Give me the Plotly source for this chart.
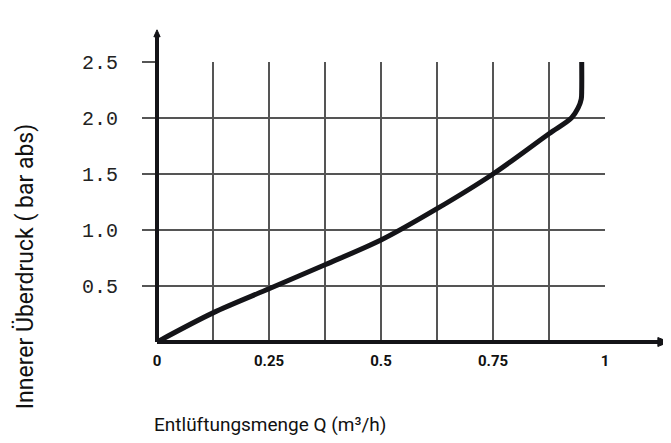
import plotly.graph_objects as go

# Data
q_flow = [0, 0.125, 0.25, 0.375, 0.5, 0.625, 0.75, 0.875, 0.925, 0.940, 0.947, 0.948, 0.948]
p_press = [0, 0.26, 0.475, 0.69, 0.91, 1.19, 1.50, 1.86, 2.0, 2.09, 2.17, 2.25, 2.52]

x_tickvals = [0, 0.125, 0.25, 0.375, 0.5, 0.625, 0.75, 0.875, 1.0]
x_ticktext = ["0", "", "0.25", "", "0.5", "", "0.75", "", "1"]
y_tickvals = [0.5, 1.0, 1.5, 2.0, 2.5]
y_ticktext = ["0.5", "1.0", "1.5", "2.0", "2.5"]

x_title = "Entlüftungsmenge Q (m³/h)"
y_title = "Innerer Überdruck ( bar abs)"

narrow = "Roboto, Liberation Sans Narrow, sans-serif"
grid_col = "#555555"
ink = "#141418"

fig = go.Figure()
fig.add_trace(go.Scatter(
    x=q_flow, y=p_press, mode="lines",
    line=dict(color=ink, width=5, shape="spline", smoothing=0.9),
    hoverinfo="skip", showlegend=False,
))

fig.update_layout(
    width=663, height=435,
    margin=dict(l=149, r=66, t=54, b=101),
    paper_bgcolor="white", plot_bgcolor="white",
    xaxis=dict(
        range=[0, 1], tickvals=x_tickvals, ticktext=x_ticktext,
        showgrid=True, gridcolor=grid_col, gridwidth=1.6,
        zeroline=False, showline=False, ticks="",
        tickfont=dict(family=narrow, size=15, color="#111111", weight="bold"),
        ticklabelstandoff=8,
    ),
    yaxis=dict(
        range=[0, 2.5], tickvals=y_tickvals, ticktext=y_ticktext,
        showgrid=True, gridcolor=grid_col, gridwidth=1.6,
        zeroline=False, showline=False,
        ticks="outside", ticklen=14, tickwidth=1.6, tickcolor=grid_col,
        tickfont=dict(family="Liberation Mono, DejaVu Sans Mono, monospace", size=20, color="#222222"),
        ticklabelstandoff=20,
    ),
    shapes=[
        dict(type="line", xref="paper", yref="paper", x0=0, x1=0, y0=0, y1=1.1,
             line=dict(color=ink, width=4), layer="above"),
        dict(type="line", xref="paper", yref="paper", x0=0, x1=1.13, y0=0, y1=0,
             line=dict(color=ink, width=4), layer="above"),
        dict(type="path", xref="paper", yref="paper",
             path="M 1.118,-0.016 L 1.143,0 L 1.118,0.016 Z",
             fillcolor=ink, line=dict(color=ink, width=1), layer="above"),
        dict(type="path", xref="paper", yref="paper",
             path="M -0.007,1.09 L 0,1.115 L 0.007,1.09 Z",
             fillcolor=ink, line=dict(color=ink, width=1), layer="above"),
    ],
    annotations=[
        dict(text=x_title, xref="paper", yref="paper", x=0.2516, y=-0.294,
             showarrow=False, xanchor="center", yanchor="middle",
             font=dict(family=narrow, size=19, color="#111111")),
        dict(text=y_title, xref="paper", yref="paper", x=-0.293, y=0.27,
             showarrow=False, xanchor="center", yanchor="middle", textangle=-90,
             font=dict(family=narrow, size=23, color="#111111")),
    ],
)

fig.write_html("out.html")
